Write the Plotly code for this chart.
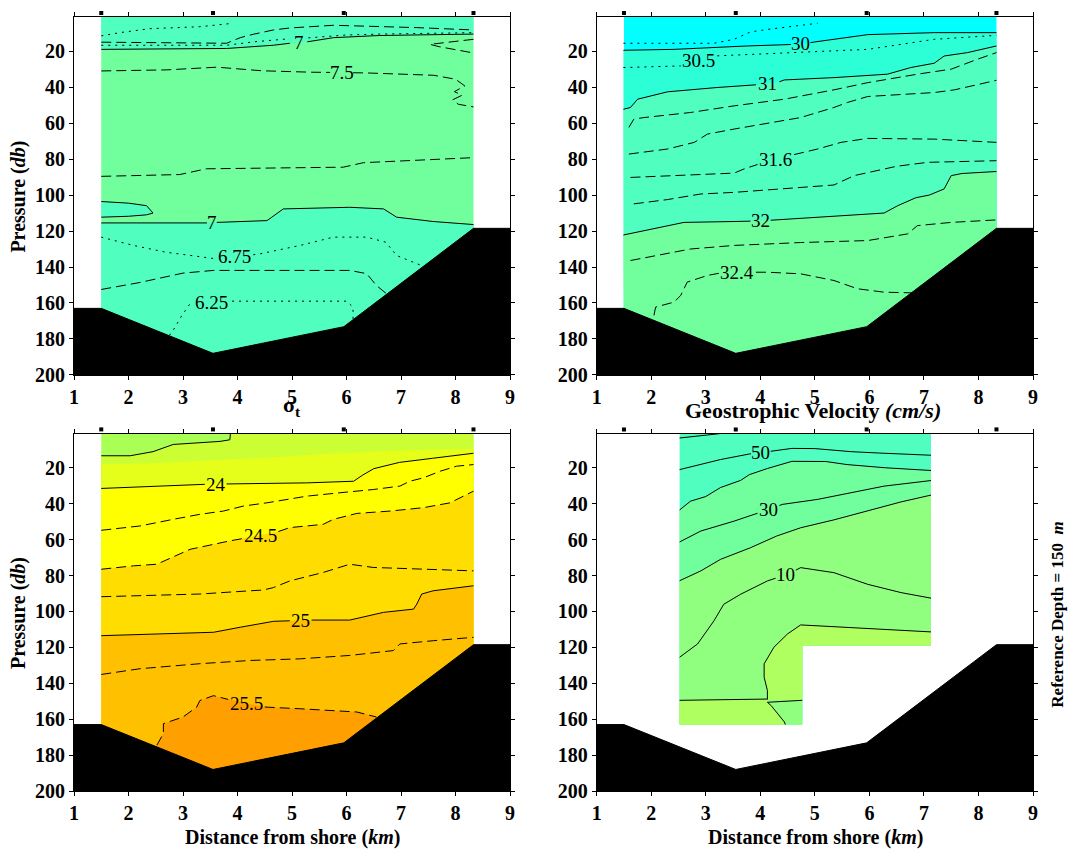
import plotly.graph_objects as go

# ---------------- data ----------------
KM_RANGE = [1, 9]
DB_RANGE = [200, 1]
KM_TICKS = [1, 2, 3, 4, 5, 6, 7, 8, 9]
DB_TICKS = [20, 40, 60, 80, 100, 120, 140, 160, 180, 200]
STATIONS_KM = [1.5, 3.55, 5.95, 8.33]

SEABED_KM = [1.0, 1.5, 3.55, 5.95, 8.33, 9.0]
SEABED_DB = [163.0, 163.0, 188.0, 173.2, 118.5, 118.5]

CTD_WEST_KM, CTD_EAST_KM = 1.5, 8.33
VEL_WEST_KM, VEL_EAST_KM, VEL_STEP_KM = 2.52, 7.13, 4.77
VEL_WEST_BOTTOM_DB, VEL_EAST_BOTTOM_DB = 163.0, 119.0

# --- Temperature isolines (km, db); None = gap for a label
T_DOT_SURF_KM = [1.5, 1.84, 2.39, 3.31, 3.92]
T_DOT_SURF_DB = [11.5, 9.7, 7.5, 6.4, 4.5]
T_DASH_SURF_KM = [1.5, 3.8, 4.05, 4.29, 4.66, 4.96, 5.76, 6.37, 7.29, 8.33]
T_DASH_SURF_DB = [15.0, 15.6, 12.5, 10.6, 8.2, 7.1, 5.6, 6.0, 6.9, 8.2]
T_DOT_SURF2_KM = [1.5, 3.8, 4.3, 4.8, 4.95, None, 5.3, 6.0, 6.6, 7.5, 8.33]
T_DOT_SURF2_DB = [16.7, 16.7, 14.8, 13.5, 13.1, None, 12.6, 11.0, 10.5, 10.0, 9.7]
T_7_UPPER_KM = [1.5, 3.8, 4.66, 4.96, None, 5.28, 5.76, 6.6, 7.55, 8.33]
T_7_UPPER_DB = [19.0, 18.5, 16.7, 15.6, None, 14.8, 12.5, 11.3, 11.0, 10.5]
T_DASH_EAST_KM = [8.33, 7.83, 7.53, 7.7, 7.95, 8.15, 8.33]
T_DASH_EAST_DB = [13.4, 14.9, 16.2, 17.5, 19.0, 20.3, 21.0]
T_75_KM = [1.5, 2.7, 3.62, 4.45, 5.36, 5.7, None, 6.12, 6.37, 7.6, 8.0, 8.17, 7.98, 8.12, 7.95, 8.05, 8.2, 8.33]
T_75_DB = [31.0, 30.4, 28.9, 30.9, 31.7, 31.8, None, 32.0, 32.1, 33.4, 35.6, 39.3, 42.5, 44.5, 47.0, 49.5, 50.4, 51.0]
T_725_KM = [1.5, 2.94, 3.43, 5.94, 6.31, 8.33]
T_725_DB = [89.6, 88.6, 85.4, 84.5, 82.0, 79.2]
T_7_BUBBLE_KM = [1.5, 2.0, 2.33, 2.45, 2.33, 2.0, 1.5]
T_7_BUBBLE_DB = [103.6, 104.5, 105.9, 110.0, 111.0, 111.8, 112.3]
T_7_LOWER_KM = [1.5, 3.44, None, 3.62, 4.54, 4.63, 4.84, 6.06, 6.68, 6.92, 7.59, 8.33]
T_7_LOWER_DB = [115.5, 115.5, None, 115.2, 114.2, 112.3, 107.7, 106.8, 107.7, 112.3, 114.7, 116.4]
T_675_KM = [1.5, 2.09, 2.69, 3.56, 3.62, None, 4.29, 4.41, 5.15, 5.76, 6.37, 6.72, 6.92, 7.4]
T_675_DB = [123.4, 128.0, 131.8, 135.3, 135.5, None, 133.2, 132.7, 128.0, 123.4, 123.4, 126.2, 133.6, 139.5]
T_65_KM = [1.5, 2.21, 3.0, 3.56, 6.06, 6.37, 6.55, 6.74]
T_65_DB = [152.5, 148.6, 143.4, 141.9, 141.9, 143.7, 150.3, 155.0]
T_625_KM = [2.75, 2.82, 2.98, 3.13, 3.17, None, 3.9, 3.93, 6.0, 6.12, 6.12]
T_625_DB = [178.0, 175.2, 166.9, 160.4, 160.0, None, 159.0, 159.0, 159.0, 162.3, 169.0]
TEMP_LABELS = [("7", 5.12, 15.2), ("7.5", 5.91, 31.9), ("7", 3.53, 115.4),
               ("6.75", 3.95, 134.4), ("6.25", 3.53, 159.5)]

# --- Salinity isolines
S_2975_KM = [1.49, 3.15, 3.52, 3.82, 4.13, 5.05]
S_2975_DB = [15.6, 15.6, 13.4, 9.3, 7.9, 4.5]
S_30_KM = [1.49, 2.42, 3.76, 4.56, None, 4.92, 4.99, 5.97, 7.19, 8.33]
S_30_DB = [19.5, 19.0, 17.1, 16.3, None, 15.3, 14.9, 10.8, 9.7, 9.7]
S_305_KM = [1.49, 2.54, None, 3.21, 4.74, 5.97, 7.19, 8.33]
S_305_DB = [29.1, 28.2, None, 22.6, 20.8, 19.0, 13.4, 11.2]
S_31_KM = [1.49, 1.62, 1.75, 2.30, 3.21, 3.92, None, 4.35, 4.44, 5.35, 6.33, 6.76, 7.19, 7.37, 7.80, 8.33]
S_31_DB = [52.3, 51.3, 46.7, 42.6, 40.2, 38.7, None, 37.0, 36.0, 34.7, 32.8, 29.1, 26.7, 22.7, 20.8, 17.1]
S_312_KM = [1.59, 1.68, 1.87, 2.72, 3.52, 4.44, 5.35, 5.97, 6.88, 7.50, 7.98, 8.33]
S_312_DB = [62.4, 57.8, 56.9, 54.1, 50.4, 46.7, 41.5, 37.5, 32.8, 30.0, 24.5, 20.8]
S_314_KM = [1.59, 2.30, 2.79, 3.03, 3.52, 4.74, 5.35, 5.60, 5.97, 7.19, 7.56, 8.33]
S_314_DB = [77.2, 74.4, 70.7, 66.1, 63.3, 56.9, 51.3, 48.5, 45.2, 43.0, 41.5, 36.2]
S_316_KM = [1.62, 2.30, 3.52, 3.70, 3.95, None, 4.62, 5.05, 5.48, 5.97, 7.19, 8.33]
S_316_DB = [90.2, 89.2, 87.8, 85.5, 83.0, None, 77.5, 74.4, 70.7, 68.5, 68.9, 70.7]
S_318_KM = [1.68, 2.30, 2.91, 3.52, 5.35, 5.72, 6.5, 7.07, 8.33]
S_318_DB = [104.9, 102.5, 99.4, 98.5, 94.4, 89.2, 84.0, 81.8, 80.9]
S_32_KM = [1.49, 2.30, 2.60, 3.52, 3.82, None, 4.19, 5.05, 6.27, 6.52, 6.85, 7.1, 7.37, 7.5, 7.7, 8.33]
S_32_DB = [122.2, 117.0, 115.2, 114.7, 114.5, None, 114.0, 112.3, 110.0, 105.9, 101.5, 100.0, 96.6, 89.2, 88.0, 86.9]
S_322_KM = [1.62, 2.30, 2.72, 3.52, 4.74, 5.97, 6.70, 6.88, 7.50, 8.33]
S_322_DB = [136.4, 132.7, 130.0, 128.0, 126.4, 125.3, 121.6, 117.0, 115.2, 113.8]
S_324_KM = [2.05, 2.08, 2.42, 2.54, 2.66, 3.03, 3.24, None, 3.92, 4.13, 4.74, 5.35, 5.78, 6.27, 6.8]
S_324_DB = [166.9, 162.3, 159.5, 155.8, 148.4, 144.7, 143.5, None, 142.9, 142.9, 143.8, 147.5, 152.1, 154.0, 154.4]
SAL_LABELS = [("30", 4.74, 15.8), ("30.5", 2.87, 25.0), ("31", 4.13, 37.8),
              ("31.6", 4.28, 80.2), ("32", 4.0, 114.3), ("32.4", 3.58, 143.2)]

# --- Sigma-t isolines
G_235_KM = [1.5, 2.03, 2.45, 2.82, 3.68, 3.86, 3.87]
G_235_DB = [13.3, 13.3, 11.0, 7.0, 5.3, 4.4, 1.0]
G_2375_KM = [1.5, 2.5, 3.5, 4.5, 5.5, 6.5, 7.5, 8.33]
G_2375_DB = [18.2, 17.5, 16.0, 14.5, 12.5, 11.0, 10.0, 9.5]
G_24_KM = [1.5, 3.13, 3.40, None, 3.80, 5.27, 6.13, 6.3, 6.5, 6.97, 7.58, 8.33]
G_24_DB = [31.5, 29.3, 29.2, None, 29.0, 28.4, 27.5, 24.0, 20.5, 17.0, 14.7, 11.9]
G_2425_KM = [1.5, 2.21, 2.82, 3.31, 3.74, 4.11, 4.54, 5.27, 5.88, 6.49, 6.98, 7.16, 7.41, 7.72, 8.02, 8.33]
G_2425_DB = [54.8, 52.4, 48.7, 45.9, 44.1, 41.3, 39.5, 35.8, 33.9, 32.1, 30.2, 27.5, 25.6, 21.9, 19.1, 18.2]
G_245_KM = [1.5, 2.09, 2.52, 3.13, 3.86, 4.08, None, 4.75, 4.96, 5.57, 5.76, 6.19, 6.80, 7.41, 7.9, 8.33]
G_245_DB = [76.5, 74.6, 73.7, 65.4, 60.7, 59.5, None, 55.5, 53.3, 51.5, 48.7, 45.4, 44.1, 42.2, 39.5, 33.0]
G_2475_KM = [1.5, 3.31, 4.23, 4.47, 4.66, 4.96, 5.57, 6.06, 6.49, 7.41, 8.33]
G_2475_DB = [91.8, 90.3, 88.5, 88.1, 86.7, 83.0, 78.3, 73.7, 75.5, 76.5, 77.4]
G_25_KM = [1.5, 3.56, 4.05, 4.66, 4.96, None, 5.36, 5.45, 6.06, 6.68, 7.23, 7.29, 7.38, 7.59, 8.33]
G_25_DB = [113.5, 111.6, 108.8, 105.5, 105.2, None, 104.8, 104.8, 104.8, 100.5, 98.7, 95.9, 90.3, 88.5, 85.7]
G_2525_KM = [1.5, 2.21, 3.31, 4.23, 5.15, 6.06, 6.86, 6.98, 7.59, 8.33]
G_2525_DB = [135.1, 131.9, 129.1, 127.3, 126.4, 124.5, 121.8, 118.1, 116.3, 114.4]
G_255_KM = [2.52, 2.64, 2.64, 3.0, 3.25, 3.31, 3.56, 3.83, None, 4.5, 4.54, 5.15, 6.19, 6.55]
G_255_DB = [174.5, 168.0, 162.5, 158.8, 153.3, 149.6, 146.9, 149.0, None, 153.2, 153.3, 154.2, 156.0, 158.8]
SIG_LABELS = [("24", 3.6, 29.1), ("24.5", 4.42, 57.5), ("25", 5.16, 105.0), ("25.5", 4.17, 151.5)]

# --- Geostrophic velocity isolines (cm/s)
V_60_KM = [2.52, 2.8, 3.1, 3.25]
V_60_DB = [3.4, 2.6, 1.8, 1.0]
V_50_KM = [2.52, 2.91, 3.27, 3.80, 3.83, None, 4.19, 4.58, 5.0, 5.66, 6.19, 7.13]
V_50_DB = [21.0, 18.2, 15.4, 12.3, 12.2, None, 10.8, 9.2, 9.3, 11.0, 11.8, 13.0]
V_40_KM = [2.52, 2.72, 3.0, 3.27, 3.64, 3.80, 4.13, 4.58, 5.2, 5.59, 6.3, 7.13]
V_40_DB = [43.5, 38.6, 36.0, 31.0, 27.0, 23.8, 20.4, 16.4, 16.5, 18.2, 20.0, 21.5]
V_30_KM = [2.52, 2.91, 3.52, 3.95, None, 4.35, 4.4, 5.05, 5.66, 6.27, 7.13]
V_30_DB = [61.3, 55.2, 49.7, 45.3, None, 41.0, 40.4, 37.6, 33.9, 30.2, 27.1]
V_20_KM = [2.52, 2.91, 3.27, 3.52, 3.82, 4.3, 4.74, 5.35, 5.97, 6.58, 7.13]
V_20_DB = [82.9, 77.4, 71.0, 68.2, 64.5, 58.0, 53.4, 49.0, 44.0, 39.0, 35.2]
V_10_KM = [2.52, 2.85, 3.15, 3.33, 3.64, 4.13, 4.28, None, 4.65, 4.74, 5.35, 5.97, 6.58, 7.13]
V_10_DB = [125.5, 118.1, 105.2, 96.0, 90.4, 83.0, 81.5, None, 77.0, 75.6, 78.4, 84.9, 89.5, 92.6]
V_0_MAIN_KM = [7.13, 5.78, 4.92, 4.74, 4.5, 4.25, 4.07, 4.07, 4.13, 4.13]
V_0_MAIN_DB = [111.4, 109.2, 107.9, 107.5, 112.5, 119.9, 129.2, 136.6, 144.0, 149.0]
V_0_WEST_KM = [2.52, 3.5, 4.13]
V_0_WEST_DB = [149.5, 149.2, 148.8]
V_0_EAST_KM = [4.13, 4.77]
V_0_EAST_DB = [150.6, 149.5]
V_0_DOWN_KM = [4.13, 4.2, 4.44, 4.46]
V_0_DOWN_DB = [150.6, 152.5, 161.5, 163.0]
VEL_LABELS = [("50", 4.01, 11.5), ("30", 4.15, 43.2), ("10", 4.47, 79.3)]

# ---------------- layout geometry / styles ----------------
FONT = "Liberation Serif"
W, H = 1068, 855                     # page margin is removed by post_script below
PLOT_LEFT, PLOT_RIGHT = 74, 1033
PLOT_TOP, PLOT_BOTTOM = 14, 791
ML, MR, MT, MB = PLOT_LEFT, W - PLOT_RIGHT, PLOT_TOP, H - PLOT_BOTTOM
PW, PH = W - ML - MR, H - MT - MB
KM_PX = (PLOT_RIGHT - 596.7) / (KM_RANGE[1] - KM_RANGE[0])


def fx(px):            # page pixel -> paper fraction
    return (px - PLOT_LEFT) / PW


def fy(py):
    return (PLOT_BOTTOM - py) / PH


X_LEFT = [0.0, fx(510)]
X_RIGHT = [fx(596.7), 1.0]
Y_TOP = [fy(373.3), 1.0]
Y_BOT = [0.0, fy(432.3)]
STATION_MARK_PY = {1: 10, 2: 10, 3: 428, 4: 428}
STATION_HALF_PX = 2.0

DASH = "10px,5px"
DOT = "2px,5px"

fig = go.Figure()
shapes = []


def ax(n):
    return ("x" if n == 1 else f"x{n}"), ("y" if n == 1 else f"y{n}")


def clean(xs, ys):
    pts = [(a, b) for a, b in zip(xs, ys) if a is not None]
    return [p[0] for p in pts], [p[1] for p in pts]


def poly(n, xs, ys, color):
    xa, ya = ax(n)
    cx, cy = clean(xs, ys)
    fig.add_trace(go.Scatter(x=cx, y=cy, mode="lines", fill="toself", fillcolor=color,
                             line=dict(width=0, color=color), hoverinfo="skip",
                             showlegend=False, xaxis=xa, yaxis=ya))


def line(n, xs, ys, dash="solid"):
    xa, ya = ax(n)
    fig.add_trace(go.Scatter(x=xs, y=ys, mode="lines", connectgaps=False,
                             line=dict(width=1, color="black", dash=dash),
                             hoverinfo="skip", showlegend=False, xaxis=xa, yaxis=ya))


def below(xs, ys, tail_x, tail_y):
    cx, cy = clean(xs, ys)
    return cx + tail_x, cy + tail_y


def seabed_and_stations(n):
    xa, ya = ax(n)
    fig.add_trace(go.Scatter(x=SEABED_KM + [KM_RANGE[1], KM_RANGE[0]],
                             y=SEABED_DB + [DB_RANGE[0], DB_RANGE[0]],
                             mode="lines", fill="toself", fillcolor="black",
                             line=dict(width=1, color="black"), hoverinfo="skip",
                             showlegend=False, xaxis=xa, yaxis=ya))
    yc = fy(STATION_MARK_PY[n])
    hy = STATION_HALF_PX / PH
    hx = STATION_HALF_PX / KM_PX
    for s in STATIONS_KM:
        shapes.append(dict(type="rect", xref=xa, yref="paper", x0=s - hx, x1=s + hx,
                           y0=yc - hy, y1=yc + hy, fillcolor="black",
                           line=dict(width=0), layer="above"))


W_, E_, B_ = CTD_WEST_KM, CTD_EAST_KM, DB_RANGE[0]
TOP = DB_RANGE[1]
RECT_X = [W_, E_, E_, W_]
RECT_Y = [TOP, TOP, B_, B_]

# ---- panel 1: temperature
poly(1, RECT_X, RECT_Y, "#70FF9C")
cx, cy = clean(T_7_UPPER_KM, T_7_UPPER_DB)
poly(1, [W_, E_] + cx[::-1], [TOP, TOP] + cy[::-1], "#50FFC0")
poly(1, T_7_BUBBLE_KM, T_7_BUBBLE_DB, "#50FFC0")
poly(1, *below(T_7_LOWER_KM, T_7_LOWER_DB, [E_, W_], [B_, B_]), "#50FFC0")
line(1, T_DOT_SURF_KM, T_DOT_SURF_DB, DOT)
line(1, T_DASH_SURF_KM, T_DASH_SURF_DB, DASH)
line(1, T_DOT_SURF2_KM, T_DOT_SURF2_DB, DOT)
line(1, T_7_UPPER_KM, T_7_UPPER_DB)
line(1, T_DASH_EAST_KM, T_DASH_EAST_DB, DASH)
line(1, T_75_KM, T_75_DB, DASH)
line(1, T_725_KM, T_725_DB, DASH)
line(1, T_7_BUBBLE_KM, T_7_BUBBLE_DB)
line(1, T_7_LOWER_KM, T_7_LOWER_DB)
line(1, T_675_KM, T_675_DB, DOT)
line(1, T_65_KM, T_65_DB, DASH)
line(1, T_625_KM, T_625_DB, DOT)
seabed_and_stations(1)

# ---- panel 2: salinity
poly(2, RECT_X, RECT_Y, "#00FFFF")
poly(2, *below(S_30_KM, S_30_DB, [E_, W_], [B_, B_]), "#2CFFD6")
poly(2, *below(S_31_KM, S_31_DB, [E_, W_], [B_, B_]), "#50FFC0")
poly(2, *below(S_32_KM, S_32_DB, [E_, W_], [B_, B_]), "#70FF9C")
line(2, S_2975_KM, S_2975_DB, DOT)
line(2, S_30_KM, S_30_DB)
line(2, S_305_KM, S_305_DB, DOT)
line(2, S_31_KM, S_31_DB)
line(2, S_312_KM, S_312_DB, DASH)
line(2, S_314_KM, S_314_DB, DASH)
line(2, S_316_KM, S_316_DB, DASH)
line(2, S_318_KM, S_318_DB, DASH)
line(2, S_32_KM, S_32_DB)
line(2, S_322_KM, S_322_DB, DASH)
line(2, S_324_KM, S_324_DB, DASH)
seabed_and_stations(2)

# ---- panel 3: sigma-t
poly(3, RECT_X, RECT_Y, "#AAFF55")
poly(3, *below(G_235_KM, G_235_DB, [E_, E_, W_], [TOP, B_, B_]), "#CCFF33")
poly(3, *below(G_2375_KM, G_2375_DB, [E_, W_], [B_, B_]), "#E6FF1A")
poly(3, *below(G_24_KM, G_24_DB, [E_, W_], [B_, B_]), "#FFFF00")
poly(3, *below(G_245_KM, G_245_DB, [E_, W_], [B_, B_]), "#FFDD00")
poly(3, *below(G_25_KM, G_25_DB, [E_, W_], [B_, B_]), "#FFC000")
cx, cy = clean(G_255_KM, G_255_DB)
poly(3, cx + [cx[-1], cx[0]], cy + [B_, B_], "#FFA000")
line(3, G_235_KM, G_235_DB)
line(3, G_24_KM, G_24_DB)
line(3, G_2425_KM, G_2425_DB, DASH)
line(3, G_245_KM, G_245_DB, DASH)
line(3, G_2475_KM, G_2475_DB, DASH)
line(3, G_25_KM, G_25_DB)
line(3, G_2525_KM, G_2525_DB, DASH)
line(3, G_255_KM, G_255_DB, DASH)
seabed_and_stations(3)

# ---- panel 4: geostrophic velocity
VW, VE, VS = VEL_WEST_KM, VEL_EAST_KM, VEL_STEP_KM
VBW, VBE = VEL_WEST_BOTTOM_DB, VEL_EAST_BOTTOM_DB
TAIL_X = [VE, VS, VS, VW]
TAIL_Y = [VBE, VBE, VBW, VBW]
poly(4, [VW, VE] + TAIL_X, [TOP, TOP] + TAIL_Y, "#50FFC0")
poly(4, *below(V_40_KM, V_40_DB, TAIL_X, TAIL_Y), "#70FF9C")
poly(4, *below(V_20_KM, V_20_DB, TAIL_X, TAIL_Y), "#90FF80")
poly(4, V_0_MAIN_KM + [VS, VS, VE], V_0_MAIN_DB + [V_0_EAST_DB[-1], VBE, VBE], "#B0FF60")
poly(4, V_0_WEST_KM + V_0_DOWN_KM + [VW], V_0_WEST_DB + V_0_DOWN_DB + [VBW], "#B0FF60")
for xs, ys in [(V_60_KM, V_60_DB), (V_50_KM, V_50_DB), (V_40_KM, V_40_DB),
               (V_30_KM, V_30_DB), (V_20_KM, V_20_DB), (V_10_KM, V_10_DB),
               (V_0_MAIN_KM, V_0_MAIN_DB), (V_0_WEST_KM, V_0_WEST_DB),
               (V_0_EAST_KM, V_0_EAST_DB), (V_0_DOWN_KM, V_0_DOWN_DB)]:
    line(4, xs, ys)
seabed_and_stations(4)

# ---------------- axes ----------------
tickfont = dict(family=FONT, size=20, color="black", weight="bold")
doms = {1: (X_LEFT, Y_TOP), 2: (X_RIGHT, Y_TOP), 3: (X_LEFT, Y_BOT), 4: (X_RIGHT, Y_BOT)}
axes = {}
for n, (xd, yd) in doms.items():
    xa, ya = ax(n)
    common = dict(showline=True, linecolor="black", linewidth=1, mirror="ticks",
                  ticks="outside", ticklen=4, tickwidth=1, tickcolor="black",
                  showgrid=False, zeroline=False, tickfont=tickfont, fixedrange=True)
    axes["xaxis" if n == 1 else f"xaxis{n}"] = dict(domain=xd, anchor=ya, range=KM_RANGE,
                                                     tickvals=KM_TICKS, **common)
    axes["yaxis" if n == 1 else f"yaxis{n}"] = dict(domain=yd, anchor=xa, range=DB_RANGE,
                                                     tickvals=DB_TICKS, **common)

# ---------------- annotations ----------------
anns = []
label_font = dict(family=FONT, size=19, color="black")
for n, labels in [(1, TEMP_LABELS), (2, SAL_LABELS), (3, SIG_LABELS), (4, VEL_LABELS)]:
    xa, ya = ax(n)
    for txt, x, y in labels:
        anns.append(dict(text=txt, x=x, y=y, xref=xa, yref=ya, showarrow=False,
                         font=label_font, borderpad=0, xanchor="center", yanchor="middle"))

title_font = dict(family=FONT, size=22, color="black")
axis_font = dict(family=FONT, size=20, color="black")
cl, cr = fx(292), fx(815)
TOP_TITLE_BOX_BOTTOM_PY = -2.5       # titles sit mostly above the page edge
anns += [
    dict(text="<b>Temperature (°C)</b>", x=cl, y=fy(TOP_TITLE_BOX_BOTTOM_PY),
         xref="paper", yref="paper", xanchor="center", yanchor="bottom",
         showarrow=False, font=title_font),
    dict(text="<b>Salinity</b>", x=cr, y=fy(TOP_TITLE_BOX_BOTTOM_PY),
         xref="paper", yref="paper", xanchor="center", yanchor="bottom",
         showarrow=False, font=title_font),
    dict(text="<b>σ<sub>t</sub></b>", x=cl, y=fy(405), xref="paper", yref="paper",
         xanchor="center", yanchor="middle", showarrow=False, font=title_font),
    dict(text="<b>Geostrophic Velocity <i>(cm/s)</i></b>", x=fx(813), y=fy(409),
         xref="paper", yref="paper", xanchor="center", yanchor="middle",
         showarrow=False, font=title_font),
    dict(text="<b>Pressure (<i>db</i>)</b>", x=fx(18.3), y=fy(194), xref="paper",
         yref="paper", textangle=-90, xanchor="center", yanchor="middle",
         showarrow=False, font=axis_font),
    dict(text="<b>Pressure (<i>db</i>)</b>", x=fx(18.3), y=fy(612), xref="paper",
         yref="paper", textangle=-90, xanchor="center", yanchor="middle",
         showarrow=False, font=axis_font),
    dict(text="<b>Distance from shore (<i>km</i>)</b>", x=cl, y=fy(838), xref="paper",
         yref="paper", xanchor="center", yanchor="middle", showarrow=False, font=axis_font),
    dict(text="<b>Distance from shore (<i>km</i>)</b>", x=cr, y=fy(838), xref="paper",
         yref="paper", xanchor="center", yanchor="middle", showarrow=False, font=axis_font),
    dict(text="<b>Reference Depth = 150\u00a0\u00a0<i>m</i></b>", x=fx(1058), y=fy(614),
         xref="paper", yref="paper", textangle=-90, xanchor="center", yanchor="middle",
         showarrow=False, font=dict(family=FONT, size=17, color="black")),
]

fig.update_layout(width=W, height=H, autosize=False, showlegend=False,
                  margin=dict(l=ML, r=MR, t=MT, b=MB, pad=0),
                  plot_bgcolor="white", paper_bgcolor="white",
                  annotations=anns, shapes=shapes, **axes)

fig.write_html("out.html", include_plotlyjs=True, full_html=True,
               config={"displayModeBar": False},
               post_script="document.body.style.margin='0px';"
                           "document.body.style.overflow='hidden';")
